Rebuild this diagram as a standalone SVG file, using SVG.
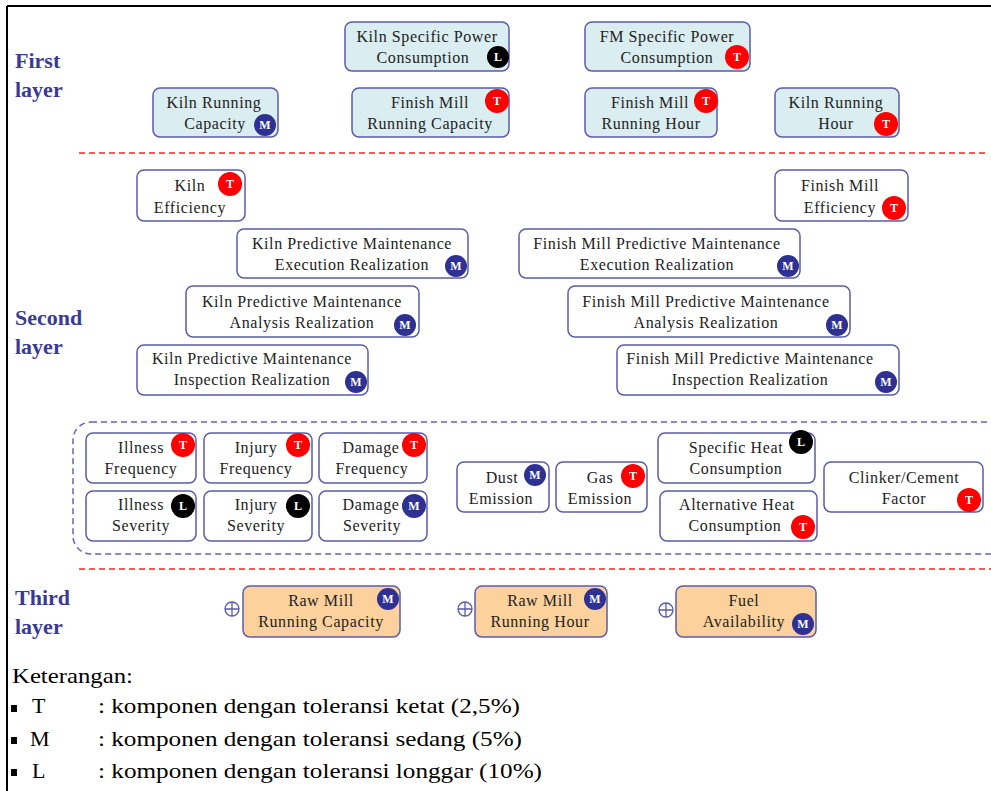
<svg xmlns="http://www.w3.org/2000/svg" width="991" height="791" viewBox="0 0 991 791">
<style>
.bg{fill:#ffffff}
.frame{stroke:#000;stroke-width:2;fill:none}
.sep{stroke:#ff2020;stroke-width:1.5;stroke-dasharray:6 4;fill:none}
.grp{stroke:#6464b4;stroke-width:1.5;stroke-dasharray:6 4;fill:none}
.n1{fill:#daedf0;stroke:#5b5ba9;stroke-width:1.5}
.n2{fill:#ffffff;stroke:#5b5ba9;stroke-width:1.5}
.n3{fill:#fdd19c;stroke:#5b5ba9;stroke-width:1.5}
.t{font-family:"Liberation Serif","Times New Roman",serif;font-size:16px;letter-spacing:0.6px;fill:#222;text-anchor:middle}
.lay{font-family:"Liberation Serif","Times New Roman",serif;font-size:22px;font-weight:bold;fill:#3a3a96}
.bT{fill:#ff0000}
.bM{fill:#2e3192}
.bL{fill:#000000}
.bt{font-family:"Liberation Serif","Times New Roman",serif;font-size:12px;font-weight:bold;fill:#fff;text-anchor:middle}
.plus{stroke:#5b5ba9;stroke-width:1.3;fill:#fff}
.leg{font-family:"Liberation Serif","Times New Roman",serif;font-size:22px;fill:#000}
</style>
<defs>
<g id="pl"><circle class="plus" cx="0" cy="0" r="7"/><path class="plus" d="M-7 0H7M0 -7V7"/></g>
</defs>
<rect class="bg" x="0" y="0" width="991" height="791"/>
<path class="frame" d="M7 6H991M7 6V791"/>

<g id="labels">
<text class="lay" x="15" y="68">First</text>
<text class="lay" x="15" y="97">layer</text>
<text class="lay" x="15" y="325">Second</text>
<text class="lay" x="15" y="354">layer</text>
<text class="lay" x="15" y="605">Third</text>
<text class="lay" x="15" y="634">layer</text>
</g>

<g id="separators">
<path class="sep" d="M79 153H985"/>
<path class="sep" d="M79 569H991"/>
<rect class="grp" x="73" y="422" width="940" height="132" rx="18"/>
</g>

<g id="n-kspc"><rect class="n1" x="345" y="22" width="164" height="49" rx="7"/><text class="t" x="427" y="42">Kiln Specific Power</text><text class="t" x="423" y="63">Consumption</text><circle class="bL" cx="498" cy="57" r="11"/><text class="bt" x="498" y="61">L</text></g>
<g id="n-fmspc"><rect class="n1" x="585" y="22" width="165" height="49" rx="7"/><text class="t" x="667" y="42">FM Specific Power</text><text class="t" x="667" y="63">Consumption</text><circle class="bT" cx="737" cy="57" r="12"/><text class="bt" x="737" y="61">T</text></g>
<g id="n-krc"><rect class="n1" x="153" y="88" width="125" height="49" rx="7"/><text class="t" x="214" y="108">Kiln Running</text><text class="t" x="215" y="129">Capacity</text><circle class="bM" cx="265" cy="125" r="11"/><text class="bt" x="265" y="129">M</text></g>
<g id="n-fmrc"><rect class="n1" x="352" y="88" width="157" height="49" rx="7"/><text class="t" x="430" y="108">Finish Mill</text><text class="t" x="430" y="129">Running Capacity</text><circle class="bT" cx="497" cy="101" r="12"/><text class="bt" x="497" y="105">T</text></g>
<g id="n-fmrh"><rect class="n1" x="585" y="88" width="132" height="49" rx="7"/><text class="t" x="650" y="108">Finish Mill</text><text class="t" x="651" y="129">Running Hour</text><circle class="bT" cx="706" cy="101" r="12"/><text class="bt" x="706" y="105">T</text></g>
<g id="n-krh"><rect class="n1" x="775" y="88" width="124" height="49" rx="7"/><text class="t" x="836" y="108">Kiln Running</text><text class="t" x="836" y="129">Hour</text><circle class="bT" cx="886" cy="124" r="12"/><text class="bt" x="886" y="128">T</text></g>

<g id="n-ke"><rect class="n2" x="137" y="170" width="108" height="51" rx="7"/><text class="t" x="190" y="191">Kiln</text><text class="t" x="190" y="213">Efficiency</text><circle class="bT" cx="230" cy="184" r="12"/><text class="bt" x="230" y="188">T</text></g>
<g id="n-fme"><rect class="n2" x="775" y="170" width="133" height="51" rx="7"/><text class="t" x="840" y="191">Finish Mill</text><text class="t" x="840" y="213">Efficiency</text><circle class="bT" cx="894" cy="208" r="12"/><text class="bt" x="894" y="212">T</text></g>
<g id="n-kpme"><rect class="n2" x="237" y="229" width="231" height="49" rx="7"/><text class="t" x="352" y="249">Kiln Predictive Maintenance</text><text class="t" x="352" y="270">Execution Realization</text><circle class="bM" cx="456" cy="266" r="11"/><text class="bt" x="456" y="270">M</text></g>
<g id="n-kpma"><rect class="n2" x="186" y="286" width="233" height="51" rx="7"/><text class="t" x="302" y="307">Kiln Predictive Maintenance</text><text class="t" x="302" y="328">Analysis Realization</text><circle class="bM" cx="405" cy="325" r="11"/><text class="bt" x="405" y="329">M</text></g>
<g id="n-kpmi"><rect class="n2" x="137" y="345" width="231" height="50" rx="7"/><text class="t" x="252" y="364">Kiln Predictive Maintenance</text><text class="t" x="252" y="385">Inspection Realization</text><circle class="bM" cx="356" cy="382" r="11"/><text class="bt" x="356" y="386">M</text></g>
<g id="n-fpme"><rect class="n2" x="519" y="229" width="281" height="49" rx="7"/><text class="t" x="657" y="249">Finish Mill Predictive Maintenance</text><text class="t" x="657" y="270">Execution Realization</text><circle class="bM" cx="788" cy="266" r="11"/><text class="bt" x="788" y="270">M</text></g>
<g id="n-fpma"><rect class="n2" x="568" y="286" width="282" height="51" rx="7"/><text class="t" x="706" y="307">Finish Mill Predictive Maintenance</text><text class="t" x="706" y="328">Analysis Realization</text><circle class="bM" cx="837" cy="325" r="11"/><text class="bt" x="837" y="329">M</text></g>
<g id="n-fpmi"><rect class="n2" x="617" y="345" width="282" height="50" rx="7"/><text class="t" x="750" y="364">Finish Mill Predictive Maintenance</text><text class="t" x="750" y="385">Inspection Realization</text><circle class="bM" cx="886" cy="382" r="11"/><text class="bt" x="886" y="386">M</text></g>

<g id="n-if"><rect class="n2" x="86" y="433" width="110" height="50" rx="7"/><text class="t" x="141" y="453">Illness</text><text class="t" x="141" y="474">Frequency</text><circle class="bT" cx="183" cy="445" r="12"/><text class="bt" x="183" y="449">T</text></g>
<g id="n-jf"><rect class="n2" x="204" y="433" width="108" height="50" rx="7"/><text class="t" x="256" y="453">Injury</text><text class="t" x="256" y="474">Frequency</text><circle class="bT" cx="298" cy="445" r="12"/><text class="bt" x="298" y="449">T</text></g>
<g id="n-df"><rect class="n2" x="319" y="433" width="108" height="50" rx="7"/><text class="t" x="371" y="453">Damage</text><text class="t" x="372" y="474">Frequency</text><circle class="bT" cx="414" cy="445" r="12"/><text class="bt" x="414" y="449">T</text></g>
<g id="n-is"><rect class="n2" x="86" y="491" width="110" height="50" rx="7"/><text class="t" x="141" y="510">Illness</text><text class="t" x="141" y="531">Severity</text><circle class="bL" cx="183" cy="506" r="12"/><text class="bt" x="183" y="510">L</text></g>
<g id="n-js"><rect class="n2" x="204" y="491" width="108" height="50" rx="7"/><text class="t" x="256" y="510">Injury</text><text class="t" x="256" y="531">Severity</text><circle class="bL" cx="298" cy="506" r="12"/><text class="bt" x="298" y="510">L</text></g>
<g id="n-ds"><rect class="n2" x="319" y="491" width="108" height="50" rx="7"/><text class="t" x="371" y="510">Damage</text><text class="t" x="372" y="531">Severity</text><circle class="bM" cx="414" cy="506" r="12"/><text class="bt" x="414" y="510">M</text></g>
<g id="n-de"><rect class="n2" x="457" y="462" width="92" height="50" rx="7"/><text class="t" x="502" y="483">Dust</text><text class="t" x="501" y="504">Emission</text><circle class="bM" cx="535" cy="475" r="11"/><text class="bt" x="535" y="479">M</text></g>
<g id="n-ge"><rect class="n2" x="556" y="462" width="91" height="50" rx="7"/><text class="t" x="600" y="483">Gas</text><text class="t" x="600" y="504">Emission</text><circle class="bT" cx="633" cy="476" r="12"/><text class="bt" x="633" y="480">T</text></g>
<g id="n-shc"><rect class="n2" x="658" y="433" width="157" height="50" rx="7"/><text class="t" x="736" y="453">Specific Heat</text><text class="t" x="736" y="474">Consumption</text><circle class="bL" cx="801" cy="442" r="12"/><text class="bt" x="801" y="446">L</text></g>
<g id="n-ahc"><rect class="n2" x="660" y="491" width="157" height="50" rx="7"/><text class="t" x="737" y="510">Alternative Heat</text><text class="t" x="735" y="531">Consumption</text><circle class="bT" cx="803" cy="527" r="12"/><text class="bt" x="803" y="531">T</text></g>
<g id="n-ccf"><rect class="n2" x="824" y="462" width="159" height="50" rx="7"/><text class="t" x="904" y="483">Clinker/Cement</text><text class="t" x="904" y="504">Factor</text><circle class="bT" cx="969" cy="500" r="12"/><text class="bt" x="969" y="504">T</text></g>

<g id="n-rmrc"><use href="#pl" x="232" y="609"/><rect class="n3" x="243" y="586" width="157" height="51" rx="7"/><text class="t" x="321" y="606">Raw Mill</text><text class="t" x="321" y="627">Running Capacity</text><circle class="bM" cx="388" cy="599" r="11"/><text class="bt" x="388" y="603">M</text></g>
<g id="n-rmrh"><use href="#pl" x="465" y="609"/><rect class="n3" x="475" y="586" width="132" height="51" rx="7"/><text class="t" x="540" y="606">Raw Mill</text><text class="t" x="540" y="627">Running Hour</text><circle class="bM" cx="595" cy="599" r="11"/><text class="bt" x="595" y="603">M</text></g>
<g id="n-fa"><use href="#pl" x="666" y="610"/><rect class="n3" x="676" y="586" width="140" height="51" rx="7"/><text class="t" x="744" y="606">Fuel</text><text class="t" x="744" y="627">Availability</text><circle class="bM" cx="803" cy="624" r="11"/><text class="bt" x="803" y="628">M</text></g>

<g id="legend">
<text class="leg" x="12" y="683" textLength="121" lengthAdjust="spacingAndGlyphs">Keterangan:</text>
<rect x="11" y="705" width="6" height="7" fill="#000"/><text class="leg" x="32" y="713">T</text><text class="leg" x="98" y="713" textLength="422" lengthAdjust="spacingAndGlyphs">: komponen dengan toleransi ketat (2,5%)</text>
<rect x="11" y="737" width="6" height="7" fill="#000"/><text class="leg" x="30" y="746">M</text><text class="leg" x="98" y="746" textLength="424" lengthAdjust="spacingAndGlyphs">: komponen dengan toleransi sedang (5%)</text>
<rect x="11" y="769" width="6" height="7" fill="#000"/><text class="leg" x="32" y="778">L</text><text class="leg" x="98" y="778" textLength="444" lengthAdjust="spacingAndGlyphs">: komponen dengan toleransi longgar (10%)</text>
</g>
</svg>
